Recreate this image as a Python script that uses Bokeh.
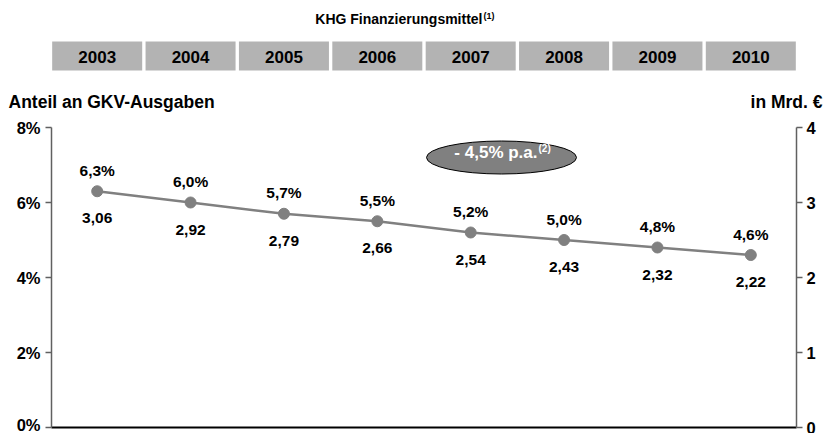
from bokeh.plotting import figure
from bokeh.models import Range1d, LinearAxis, FixedTicker, Label, ColumnDataSource
from bokeh.embed import file_html
from bokeh.resources import INLINE
from bokeh.core.properties import value

# ---------------- data ----------------
years = ["2003", "2004", "2005", "2006", "2007", "2008", "2009", "2010"]
share_pct = [6.3, 6.0, 5.7, 5.5, 5.2, 5.0, 4.8, 4.6]          # Anteil an GKV-Ausgaben (%)
funds_bn = [3.06, 2.92, 2.79, 2.66, 2.54, 2.43, 2.32, 2.22]   # KHG Finanzierungsmittel (Mrd. EUR)
left_ticks = [0, 2, 4, 6, 8]
right_ticks = [0, 1, 2, 3, 4]
title_text = "KHG Finanzierungsmittel"
title_note = "(1)"
cagr_text = "- 4,5% p.a."
cagr_note = "(2)"
left_axis_title = "Anteil an GKV-Ausgaben"
right_axis_title = "in Mrd. €"

share_labels = [f"{v:.1f}%".replace(".", ",") for v in share_pct]
funds_labels = [f"{v:.2f}".replace(".", ",") for v in funds_bn]
year_pos = [i + 0.5 for i in range(len(years))]   # category centres (category index scale)

# ---------------- layout constants (image pixels) ----------------
W, H = 824, 433
CAT_LEFT_PX = 50
CAT_RIGHT_PX = 797
ZERO_PX = 427       # image y of value 0
PX_PER_UNIT = 37.5  # pixels per 1 %-point
CAT_W = (CAT_RIGHT_PX - CAT_LEFT_PX) / len(years)


def Y(py):
    return (ZERO_PX - py) / PX_PER_UNIT


def X(px):
    return (px - CAT_LEFT_PX) / CAT_W


FONT = "Liberation Sans"
GRAY = "#808080"
AXIS_GRAY = "#606060"

y_start, y_end = Y(H), Y(0)

p = figure(width=W, height=H, x_range=Range1d(X(0), X(W)), y_range=Range1d(y_start, y_end),
           output_backend="svg", toolbar_location=None, min_border=0)
p.outline_line_color = None
p.grid.visible = False

# bottom baseline (x axis without ticks)
xa = p.xaxis[0]
xa.fixed_location = 0
xa.bounds = (X(51), X(796))
xa.ticker = FixedTicker(ticks=[])
xa.axis_line_color = "black"
xa.axis_line_width = 2
xa.major_tick_line_color = None
xa.minor_tick_line_color = None
xa.major_label_text_font_size = "0px"

# left axis
ya = p.yaxis[0]
ya.fixed_location = X(51)
ya.ticker = FixedTicker(ticks=left_ticks)
ya.bounds = (left_ticks[0], left_ticks[-1])
ya.major_label_overrides = {t: f"{t}%" for t in left_ticks}

# right axis
p.extra_y_ranges = {"eur": Range1d(y_start / 2, y_end / 2)}
ra = LinearAxis(y_range_name="eur", ticker=FixedTicker(ticks=right_ticks),
                bounds=(right_ticks[0], right_ticks[-1]), fixed_location=X(796))
p.add_layout(ra, "right")

for ax in [ya, ra]:
    ax.axis_line_color = AXIS_GRAY
    ax.axis_line_width = 1.5
    ax.major_tick_line_color = AXIS_GRAY
    ax.major_tick_line_width = 1.5
    ax.major_tick_out = 6
    ax.major_tick_in = 0
    ax.minor_tick_line_color = None
    ax.major_label_text_font = FONT
    ax.major_label_text_font_style = "bold"
    ax.major_label_text_font_size = "16.5px"
    ax.major_label_text_color = "black"
ya.major_label_standoff = 5
ra.major_label_standoff = 4

# year boxes
box_src = ColumnDataSource(dict(x=year_pos, t=years))
p.rect(x="x", y=Y(55.5), width=0.964, height=29, height_units="screen", source=box_src,
       fill_color="#b3b3b3", line_color=None)
p.text(x="x", y=Y(56), text="t", source=box_src, text_align="center", text_baseline="middle",
       text_font=value(FONT), text_font_style="bold", text_font_size="17px", text_color="black")

# title
p.add_layout(Label(x=X(482), y=Y(18), text=title_text, text_align="right", text_baseline="middle",
                   text_font=FONT, text_font_style="bold", text_font_size="14px", text_color="black"))
p.add_layout(Label(x=X(483), y=Y(15), text=title_note, text_align="left", text_baseline="middle",
                   text_font=FONT, text_font_style="bold", text_font_size="9px", text_color="black"))

# axis titles
p.add_layout(Label(x=X(8), y=Y(101), text=left_axis_title, text_align="left", text_baseline="middle",
                   text_font=FONT, text_font_style="bold", text_font_size="17.5px", text_color="black"))
p.add_layout(Label(x=X(822), y=Y(101), text=right_axis_title, text_align="right", text_baseline="middle",
                   text_font=FONT, text_font_style="bold", text_font_size="17.5px", text_color="black"))

# series
src = ColumnDataSource(dict(x=year_pos, y=share_pct, sl=share_labels, fl=funds_labels))
p.line(x="x", y="y", source=src, line_color=GRAY, line_width=2.5)
p.scatter(x="x", y="y", source=src, size=11, fill_color=GRAY, line_color=GRAY)
p.text(x="x", y="y", text="sl", source=src, y_offset=-21, text_align="center", text_baseline="middle",
       text_font=value(FONT), text_font_style="bold", text_font_size="15.5px", text_color="black")
p.text(x="x", y="y", text="fl", source=src, y_offset=27, text_align="center", text_baseline="middle",
       text_font=value(FONT), text_font_style="bold", text_font_size="15.5px", text_color="black")

# CAGR ellipse
p.ellipse(x=[X(501)], y=[Y(157)], width=150, height=33, width_units="screen", height_units="screen",
          fill_color=GRAY, line_color="black", line_width=1)
p.add_layout(Label(x=X(537), y=Y(152), text=cagr_text, text_align="right", text_baseline="middle",
                   text_font=FONT, text_font_style="bold", text_font_size="17px", text_color="white"))
p.add_layout(Label(x=X(538), y=Y(148), text=cagr_note, text_align="left", text_baseline="middle",
                   text_font=FONT, text_font_style="bold", text_font_size="10px", text_color="white"))

open("out.html", "w").write(file_html(p, INLINE))
